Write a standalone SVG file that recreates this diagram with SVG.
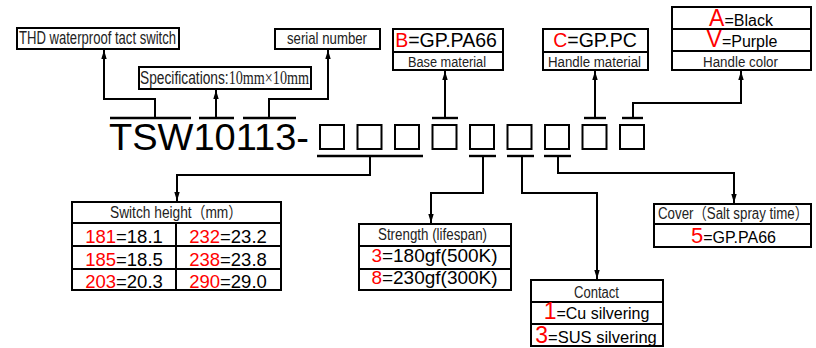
<svg xmlns="http://www.w3.org/2000/svg" width="816" height="348" viewBox="0 0 816 348">
<style>
.box{fill:#fff;stroke:#000;stroke-width:2}
.div{stroke:#000;stroke-width:2;fill:none}
.ln{stroke:#000;stroke-width:2;fill:none}
.bar{stroke:#000;stroke-width:2.4}
.n{font-family:"Liberation Sans Narrow","Liberation Sans","Noto Sans CJK SC",sans-serif;fill:#222}
.a{font-family:"Liberation Sans",Arial,sans-serif;fill:#000}
.r{fill:#f00}
</style>
<defs>
<marker id="ar" viewBox="0 0 10 6" refX="10" refY="3" markerWidth="9" markerHeight="5.4" markerUnits="userSpaceOnUse" orient="auto">
<path d="M0,0 L10,3 L0,6 z" fill="#000"/>
</marker>
</defs>
<rect width="816" height="348" fill="#fff"/>

<g id="code">
<text class="a" x="109" y="150" font-size="37.5" textLength="200" lengthAdjust="spacingAndGlyphs">TSW10113-</text>
<rect class="box" x="320" y="125" width="24" height="24"/>
<rect class="box" x="357.5" y="125" width="24" height="24"/>
<rect class="box" x="395" y="125" width="24" height="24"/>
<rect class="box" x="432.5" y="125" width="24" height="24"/>
<rect class="box" x="470" y="125" width="24" height="24"/>
<rect class="box" x="507.5" y="125" width="24" height="24"/>
<rect class="box" x="545" y="125" width="24" height="24"/>
<rect class="box" x="582.5" y="125" width="24" height="24"/>
<rect class="box" x="620" y="125" width="24" height="24"/>
</g>

<g id="connectors">
<line class="bar" x1="110" y1="118" x2="191" y2="118"/>
<line class="bar" x1="199" y1="118" x2="234" y2="118"/>
<line class="bar" x1="243" y1="118" x2="296" y2="118"/>
<line class="bar" x1="432" y1="118" x2="458" y2="118"/>
<line class="bar" x1="584" y1="118" x2="606" y2="118"/>
<line class="bar" x1="622" y1="118" x2="643" y2="118"/>
<line class="bar" x1="317" y1="156" x2="423" y2="156"/>
<line class="bar" x1="469" y1="156" x2="496" y2="156"/>
<line class="bar" x1="507" y1="156" x2="534" y2="156"/>
<line class="bar" x1="544" y1="156" x2="571" y2="156"/>
<path class="ln" d="M155,118 V99 H104 V50" marker-end="url(#ar)"/>
<path class="ln" d="M216,118 V90" marker-end="url(#ar)"/>
<path class="ln" d="M269,118 V99 H328 V50" marker-end="url(#ar)"/>
<path class="ln" d="M445,118 V71" marker-end="url(#ar)"/>
<path class="ln" d="M595,118 V71" marker-end="url(#ar)"/>
<path class="ln" d="M633,118 V103 H741 V71" marker-end="url(#ar)"/>
<path class="ln" d="M370,156 V175 H177 V201" marker-end="url(#ar)"/>
<path class="ln" d="M483,156 V193 H431 V223" marker-end="url(#ar)"/>
<path class="ln" d="M522,156 V193 H597 V279" marker-end="url(#ar)"/>
<path class="ln" d="M558,156 V173 H734 V203" marker-end="url(#ar)"/>
</g>

<g id="thd">
<rect class="box" x="17" y="28" width="162" height="21"/>
<text class="n" x="19" y="43.5" font-size="17.5" textLength="157" lengthAdjust="spacingAndGlyphs">THD waterproof tact switch</text>
</g>

<g id="spec">
<rect class="box" x="139" y="67" width="172" height="22"/>
<text class="n" x="140" y="84" font-size="17.5" textLength="169" lengthAdjust="spacingAndGlyphs">Specifications:<tspan font-family="Liberation Serif,serif" font-size="18">10mm×10mm</tspan></text>
</g>

<g id="serial">
<rect class="box" x="275" y="29" width="105" height="20"/>
<text class="n" x="287" y="44" font-size="17" textLength="80" lengthAdjust="spacingAndGlyphs">serial number</text>
</g>

<g id="base">
<rect class="box" x="393" y="29" width="110" height="41"/>
<line class="div" x1="393" y1="52" x2="503" y2="52"/>
<text class="a" x="446" y="47" font-size="19.5" text-anchor="middle"><tspan class="r">B</tspan>=GP.PA66</text>
<text class="n" x="408" y="67" font-size="15.5" textLength="78" lengthAdjust="spacingAndGlyphs">Base material</text>
</g>

<g id="handle">
<rect class="box" x="543" y="29" width="105" height="41"/>
<line class="div" x1="543" y1="52" x2="648" y2="52"/>
<text class="a" x="595" y="47" font-size="19.5" text-anchor="middle"><tspan class="r">C</tspan>=GP.PC</text>
<text class="n" x="548" y="67" font-size="15.5" textLength="93" lengthAdjust="spacingAndGlyphs">Handle material</text>
</g>

<g id="color">
<rect class="box" x="672" y="7" width="139" height="63"/>
<line class="div" x1="672" y1="29" x2="811" y2="29"/>
<line class="div" x1="672" y1="51" x2="811" y2="51"/>
<text class="a" x="741" y="26" font-size="16" text-anchor="middle"><tspan class="r" font-size="23">A</tspan>=Black</text>
<text class="a" x="742" y="47" font-size="16" text-anchor="middle"><tspan class="r" font-size="23">V</tspan>=Purple</text>
<text class="n" x="703" y="67" font-size="15.5" textLength="75" lengthAdjust="spacingAndGlyphs">Handle color</text>
</g>

<g id="height">
<rect class="box" x="72" y="202" width="209" height="88"/>
<line class="div" x1="72" y1="223" x2="281" y2="223"/>
<line class="div" x1="72" y1="246" x2="281" y2="246"/>
<line class="div" x1="72" y1="269" x2="281" y2="269"/>
<line class="div" x1="176" y1="223" x2="176" y2="290"/>
<text class="n" x="110" y="218" font-size="16" textLength="132" lengthAdjust="spacingAndGlyphs">Switch height（mm）</text>
<text class="a" x="124" y="243" font-size="18.5" text-anchor="middle"><tspan class="r">181</tspan>=18.1</text>
<text class="a" x="228" y="243" font-size="18.5" text-anchor="middle"><tspan class="r">232</tspan>=23.2</text>
<text class="a" x="124" y="266" font-size="18.5" text-anchor="middle"><tspan class="r">185</tspan>=18.5</text>
<text class="a" x="228" y="266" font-size="18.5" text-anchor="middle"><tspan class="r">238</tspan>=23.8</text>
<text class="a" x="124" y="288" font-size="18.5" text-anchor="middle"><tspan class="r">203</tspan>=20.3</text>
<text class="a" x="228" y="288" font-size="18.5" text-anchor="middle"><tspan class="r">290</tspan>=29.0</text>
</g>

<g id="strength">
<rect class="box" x="359" y="224" width="152" height="66"/>
<line class="div" x1="359" y1="246" x2="511" y2="246"/>
<line class="div" x1="359" y1="269" x2="511" y2="269"/>
<text class="n" x="378" y="239.5" font-size="16" textLength="109" lengthAdjust="spacingAndGlyphs">Strength (lifespan)</text>
<text class="a" x="434.5" y="262" font-size="19" text-anchor="middle"><tspan class="r">3</tspan>=180gf(500K)</text>
<text class="a" x="434.5" y="284" font-size="19" text-anchor="middle"><tspan class="r">8</tspan>=230gf(300K)</text>
</g>

<g id="contact">
<rect class="box" x="531" y="280" width="132" height="66"/>
<line class="div" x1="531" y1="302" x2="663" y2="302"/>
<line class="div" x1="531" y1="324" x2="663" y2="324"/>
<text class="n" x="574" y="297.5" font-size="16" textLength="45" lengthAdjust="spacingAndGlyphs">Contact</text>
<text class="a" x="596.5" y="319" font-size="16" text-anchor="middle"><tspan class="r" font-size="23">1</tspan>=Cu silvering</text>
<text class="a" x="596" y="343" font-size="16.5" text-anchor="middle"><tspan class="r" font-size="23">3</tspan>=SUS silvering</text>
</g>

<g id="cover">
<rect class="box" x="654" y="204" width="157" height="43"/>
<line class="div" x1="654" y1="224" x2="811" y2="224"/>
<text class="n" x="658" y="218.5" font-size="16" textLength="150" lengthAdjust="spacingAndGlyphs">Cover（Salt spray time）</text>
<text class="a" x="733.5" y="243" font-size="16" text-anchor="middle"><tspan class="r" font-size="22">5</tspan>=GP.PA66</text>
</g>
</svg>
